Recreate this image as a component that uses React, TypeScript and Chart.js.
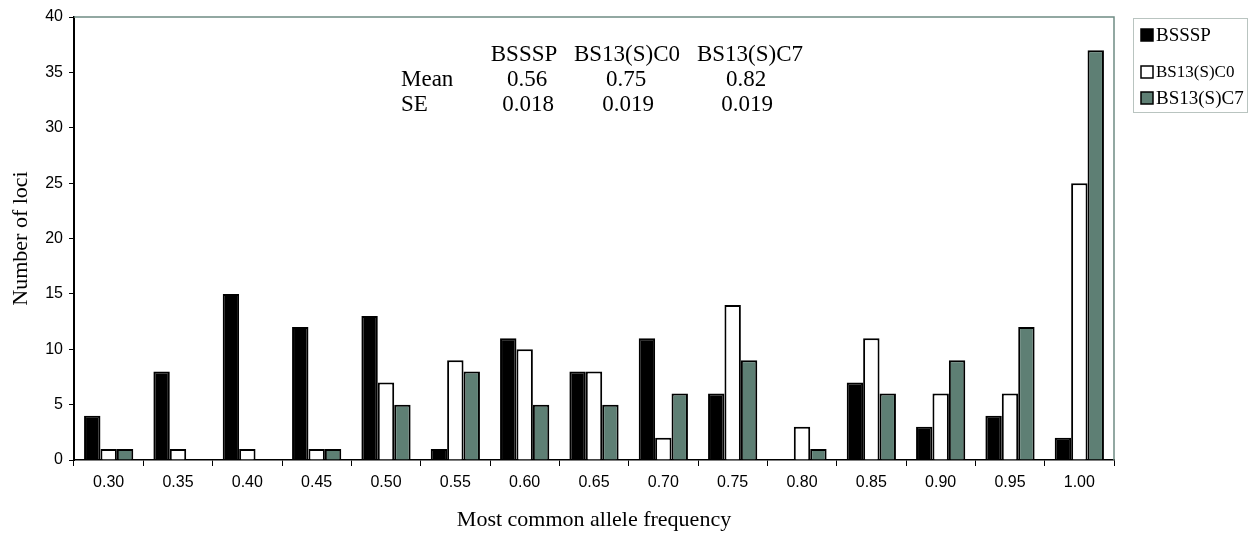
import React, { useEffect, useRef } from "react";
import { Chart, registerables } from "chart.js";

Chart.register(...registerables);

const categories = ["0.30", "0.35", "0.40", "0.45", "0.50", "0.55", "0.60", "0.65", "0.70", "0.75", "0.80", "0.85", "0.90", "0.95", "1.00"];
const bssspValues = [4, 8, 15, 12, 13, 1, 11, 8, 11, 6, 0, 7, 3, 4, 2];
const c0Values = [1, 1, 1, 1, 7, 9, 10, 8, 2, 14, 3, 11, 6, 6, 25];
const c7Values = [1, 0, 0, 1, 5, 8, 5, 5, 6, 9, 1, 6, 9, 12, 37];
const seriesNames = ["BSSSP", "BS13(S)C0", "BS13(S)C7"];
const meanValues = ["0.56", "0.75", "0.82"];
const seValues = ["0.018", "0.019", "0.019"];

const GREEN = "#5e7f74";
const SERIF = "'Liberation Serif', 'DejaVu Serif', serif";
const SANS = "'Liberation Sans', Arial, sans-serif";

const decorPlugin = {
  id: "decor",
  afterDraw(chart: any) {
    const ctx = chart.ctx;
    const a = chart.chartArea;
    ctx.save();
    // top and right frame
    ctx.strokeStyle = "#6f8c84";
    ctx.lineWidth = 1.5;
    ctx.beginPath();
    ctx.moveTo(a.left, a.top);
    ctx.lineTo(a.right, a.top);
    ctx.lineTo(a.right, a.bottom);
    ctx.stroke();

    // stats table
    ctx.fillStyle = "#000";
    ctx.font = `23px ${SERIF}`;
    ctx.textBaseline = "middle";
    ctx.textAlign = "center";
    const headerX = [524, 627, 750];
    const meanX = [527, 626, 746];
    const seX = [528, 628, 747];
    seriesNames.forEach((n, i) => ctx.fillText(n, headerX[i], 55));
    meanValues.forEach((v, i) => ctx.fillText(v, meanX[i], 80));
    seValues.forEach((v, i) => ctx.fillText(v, seX[i], 105));
    ctx.textAlign = "left";
    ctx.fillText("Mean", 401, 80);
    ctx.fillText("SE", 401, 105);

    // legend
    ctx.strokeStyle = "#b9c4c0";
    ctx.lineWidth = 1;
    ctx.strokeRect(1133.5, 18.5, 114, 94);
    const ys = [35, 72, 98];
    const fills = ["#000", "#fff", GREEN];
    const sizes = [19, 17, 19];
    seriesNames.forEach((n, i) => {
      ctx.fillStyle = fills[i];
      ctx.fillRect(1141, ys[i] - 6, 12, 12);
      ctx.strokeStyle = "#000";
      ctx.lineWidth = 1.5;
      ctx.strokeRect(1141, ys[i] - 6, 12, 12);
      ctx.fillStyle = "#000";
      ctx.font = `${sizes[i]}px ${SERIF}`;
      ctx.fillText(n, 1156, ys[i] + 1);
    });
    ctx.restore();
  },
};

export default function App() {
  const ref = useRef<HTMLCanvasElement | null>(null);
  useEffect(() => {
    if (!ref.current) return;
    const chart = new Chart(ref.current, {
      type: "bar",
      data: {
        labels: categories,
        datasets: [
          { label: seriesNames[0], data: bssspValues, backgroundColor: "#000", borderColor: "#000", borderWidth: 2 },
          { label: seriesNames[1], data: c0Values, backgroundColor: "#fff", borderColor: "#000", borderWidth: 2 },
          { label: seriesNames[2], data: c7Values, backgroundColor: GREEN, borderColor: "#000", borderWidth: 2 },
        ],
      },
      options: {
        responsive: false,
        animation: false,
        devicePixelRatio: 1,
        layout: { padding: { top: 17, right: 146, left: 0, bottom: 0 } },
        datasets: { bar: { barPercentage: 1, categoryPercentage: 0.71 } },
        plugins: { legend: { display: false }, tooltip: { enabled: false } },
        scales: {
          x: {
            grid: { drawOnChartArea: false, drawTicks: true, tickLength: 6, color: "#000", offset: true },
            border: { display: true, color: "#000", width: 1.5 },
            ticks: { font: { family: SANS, size: 16 }, color: "#000", padding: 7 },
            title: { display: true, text: "Most common allele frequency", font: { family: SERIF, size: 22 }, color: "#000", padding: { top: 4, bottom: 3 } },
            afterFit: (s: any) => { s.height = 76; },
          },
          y: {
            min: 0,
            max: 40,
            ticks: { stepSize: 5, font: { family: SANS, size: 16 }, color: "#000", padding: 6 },
            grid: { drawOnChartArea: false, drawTicks: true, tickLength: 5, color: "#000" },
            border: { display: true, color: "#000", width: 2 },
            title: { display: true, text: "Number of loci", font: { family: SERIF, size: 22 }, color: "#000", padding: { top: 8, bottom: 0 } },
            afterFit: (s: any) => { s.width = 74; },
          },
        },
      },
      plugins: [decorPlugin],
    });
    return () => chart.destroy();
  }, []);
  return (
    <div style={{ position: "fixed", left: 0, top: 0, width: 1260, height: 536, background: "#fff" }}>
      <canvas ref={ref} width={1260} height={536} />
    </div>
  );
}
